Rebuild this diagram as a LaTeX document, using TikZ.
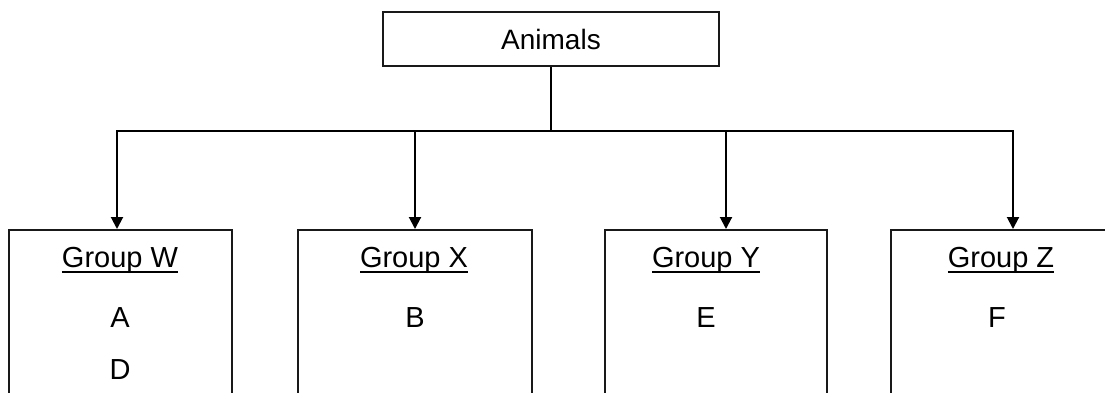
\documentclass[tikz,border=0pt]{standalone}
\usepackage{fontspec}
\setmainfont{Liberation Sans}
\usetikzlibrary{arrows.meta}
\newcommand\myul[1]{\setbox0\hbox{#1}\rlap{\vrule height -3.5pt depth 5.5pt width \wd0}\box0}
\begin{document}
\begin{tikzpicture}[x=1pt,y=-1pt,
  boxstyle/.style={draw=black!90,line width=2.2pt,inner sep=0pt},
  txt/.style={inner sep=0pt,font=\fontsize{29}{33}\selectfont},
  arr/.style={line width=2pt,-{Triangle[width=12pt,length=12pt]}},
  conn/.style={line width=2pt}]
\clip (0,0) rectangle (1105,392);
\fill[white] (0,0) rectangle (1105,392);
% top box
\node[boxstyle,minimum width=336pt,minimum height=54pt] (animals) at (551,39) {};
\node[txt,font=\fontsize{28}{32}\selectfont] (animalsT) at (551,39) {Animals};
% group boxes (bottoms extend beyond the picture)
\node[boxstyle,anchor=north,minimum width=223pt,minimum height=200pt] (w) at (120.5,229) {};
\node[boxstyle,anchor=north,minimum width=234pt,minimum height=200pt] (x) at (415,229) {};
\node[boxstyle,anchor=north,minimum width=222pt,minimum height=200pt] (yb) at (716,229) {};
\node[boxstyle,anchor=north,minimum width=228pt,minimum height=200pt] (z) at (1005,229) {};
% texts
\node[txt] (wT) at (120,260) {\myul{Group W}};
\node[txt] (wA) at (120,318) {A};
\node[txt] (wD) at (120,370) {D};
\node[txt] (xT) at (414,260) {\myul{Group X}};
\node[txt] (xB) at (415,318) {B};
\node[txt] (yT) at (706,260) {\myul{Group Y}};
\node[txt] (yE) at (706,318) {E};
\node[txt] (zT) at (1001,260) {\myul{Group Z}};
\node[txt] (zF) at (997,318) {F};
% connectors
\coordinate (jW) at (117,131);
\coordinate (jX) at (415,131);
\coordinate (jY) at (726,131);
\coordinate (jZ) at (1013,131);
\draw[conn] (animals.south) -- (animals.south |- jW);
\draw[conn] ([xshift=-1pt]jW) -- ([xshift=1pt]jZ);
\draw[arr] (jW) -- (jW |- w.north);
\draw[arr] (jX) -- (jX |- x.north);
\draw[arr] (jY) -- (jY |- yb.north);
\draw[arr] (jZ) -- (jZ |- z.north);
\end{tikzpicture}
\end{document}
